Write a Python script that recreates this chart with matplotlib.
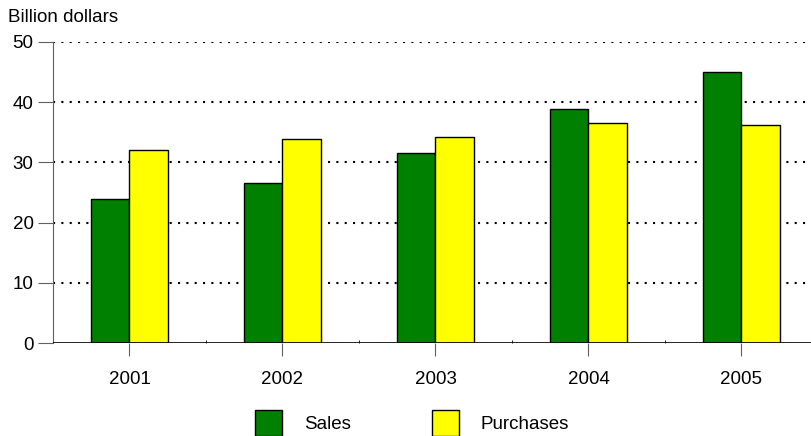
import matplotlib.pyplot as plt
import matplotlib.patches as patches
import numpy as np

plt.rcParams['font.family'] = ['Liberation Sans', 'DejaVu Sans']

years = ['2001', '2002', '2003', '2004', '2005']
sales = [24.0, 26.6, 31.5, 38.8, 45.0]
purchases = [32.1, 33.9, 34.2, 36.5, 36.2]

green = '#008000'
yellow = '#ffff00'
fs = 13.5

fig = plt.figure(figsize=(8.12, 4.36), dpi=100)
# plot area runs slightly past the right edge of the figure
ax = fig.add_axes([53 / 812, 1 - 343 / 436, 765 / 812, (343 - 42) / 436])

x = np.arange(len(years))
w = 0.25
ax.bar(x - w / 2, sales, w, color=green, edgecolor='black', linewidth=1, zorder=3)
ax.bar(x + w / 2, purchases, w, color=yellow, edgecolor='black', linewidth=1, zorder=3)

ax.set_xlim(-0.5, len(years) - 0.5)
ax.set_ylim(0, 50)

# dotted horizontal gridlines
for yv in range(10, 51, 10):
    ax.axhline(yv, color='black', linestyle=(0, (1, 3)), linewidth=1.5, zorder=1)
ax.axhline(0, color='black', linewidth=1.2, zorder=4)

for s in ['top', 'right', 'bottom']:
    ax.spines[s].set_visible(False)
ax.spines['left'].set_color('#606060')

ax.set_yticks(range(0, 51, 10))
ax.tick_params(axis='y', length=11, color='#606060', labelsize=fs, pad=3)
ax.set_xticks(x)
ax.set_xticklabels(years)
ax.tick_params(axis='x', length=9, color='#606060', labelsize=fs, pad=11)
ax.set_xticks(np.arange(0.5, len(years) - 1, 1), minor=True)
ax.tick_params(axis='x', which='minor', length=2, direction='in', color='black')

fig.text(8 / 812, 1 - 18 / 436, 'Billion dollars', fontsize=fs, va='center', ha='left')

# legend drawn in figure coordinates
fw, fh = 812, 436
fig.patches.append(patches.Rectangle((255 / fw, 1 - 436 / fh), 27 / fw, 26 / fh,
                                     transform=fig.transFigure, facecolor=green,
                                     edgecolor='black', linewidth=1))
fig.text(304 / fw, 1 - 424 / fh, 'Sales', fontsize=fs, va='center')
fig.patches.append(patches.Rectangle((432 / fw, 1 - 436 / fh), 27 / fw, 26 / fh,
                                     transform=fig.transFigure, facecolor=yellow,
                                     edgecolor='black', linewidth=1))
fig.text(481 / fw, 1 - 424 / fh, 'Purchases', fontsize=fs, va='center')

fig.savefig('out.png', dpi=100)
